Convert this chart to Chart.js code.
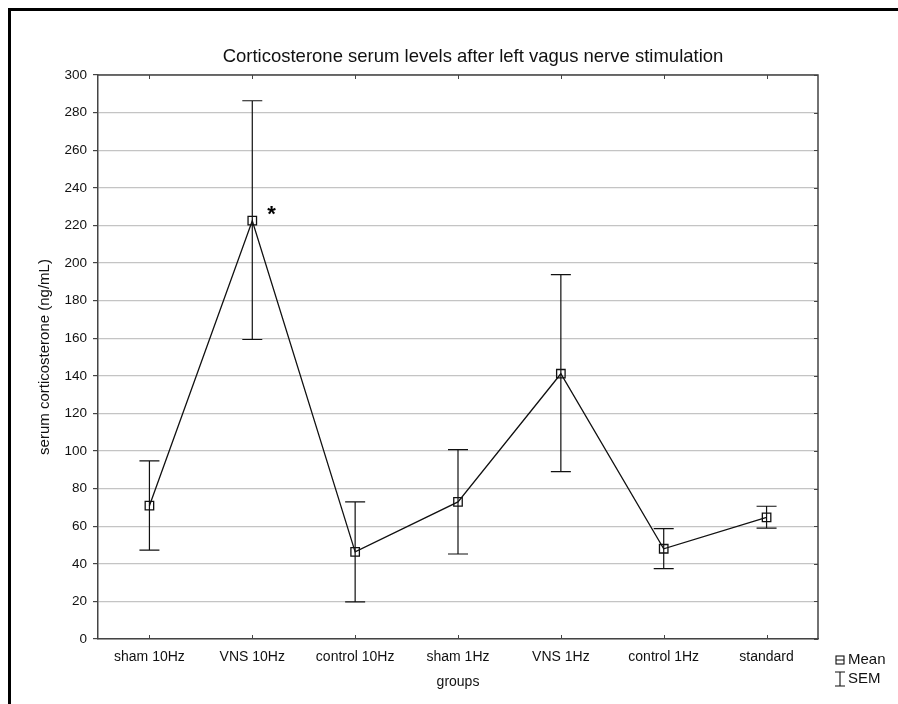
<!DOCTYPE html>
<html>
<head>
<meta charset="utf-8">
<script src="https://cdn.jsdelivr.net/npm/chart.js@4/dist/chart.umd.min.js"></script>
<style>
  html, body { margin: 0; padding: 0; background: #fff; }
  #wrap { position: relative; width: 898px; height: 704px; overflow: hidden; }
  #frame { position: absolute; left: 8px; top: 8px; right: 0; bottom: 0;
           border-top: 3px solid #000; border-left: 3px solid #000; pointer-events: none; }
  canvas { position: absolute; left: 0; top: 0; }
</style>
</head>
<body>
<div id="wrap">
  <canvas id="chart" width="898" height="704"></canvas>
  <div id="frame"></div>
</div>
<script>
// groups and readings (ng/mL)
const groups = ['sham 10Hz', 'VNS 10Hz', 'control 10Hz', 'sham 1Hz', 'VNS 1Hz', 'control 1Hz', 'standard'];
const means = [70.9, 222.5, 46.3, 72.9, 141.1, 48.0, 64.7];
const semUpper = [94.8, 286.3, 72.9, 100.7, 193.8, 58.7, 70.6];
const semLower = [47.3, 159.3, 19.7, 45.2, 89.0, 37.4, 59.0];
const marks = ['', '*', '', '', '', '', ''];
const yTicks = [0, 20, 40, 60, 80, 100, 120, 140, 160, 180, 200, 220, 240, 260, 280, 300];

const FONT = "'Liberation Sans', Arial, Helvetica, sans-serif";
const INK = '#111';
const AXIS = '#444';

// SEM whiskers, frame ticks, asterisk, title and legend
const extras = {
  id: 'extras',
  beforeDatasetsDraw(chart) {
    const ctx = chart.ctx;
    const xs = chart.scales.x, ys = chart.scales.y;
    ctx.save();
    ctx.strokeStyle = INK;
    ctx.lineWidth = 1.2;
    groups.forEach((g, i) => {
      const x = xs.getPixelForValue(i);
      const yt = ys.getPixelForValue(semUpper[i]);
      const yb = ys.getPixelForValue(semLower[i]);
      ctx.beginPath();
      ctx.moveTo(x, yt); ctx.lineTo(x, yb);
      ctx.moveTo(x - 10, yt); ctx.lineTo(x + 10, yt);
      ctx.moveTo(x - 10, yb); ctx.lineTo(x + 10, yb);
      ctx.stroke();
    });
    ctx.restore();
  },
  afterDraw(chart) {
    const ctx = chart.ctx;
    const a = chart.chartArea;
    const xs = chart.scales.x, ys = chart.scales.y;
    ctx.save();
    // top and right frame of plot
    ctx.strokeStyle = AXIS;
    ctx.lineWidth = 1.5;
    ctx.beginPath();
    ctx.moveTo(a.left, a.top); ctx.lineTo(a.right, a.top); ctx.lineTo(a.right, a.bottom);
    ctx.stroke();
    // inward ticks
    ctx.lineWidth = 1;
    ctx.beginPath();
    groups.forEach((g, i) => {
      const x = Math.round(xs.getPixelForValue(i)) + 0.5;
      ctx.moveTo(x, a.top); ctx.lineTo(x, a.top + 4);
      ctx.moveTo(x, a.bottom); ctx.lineTo(x, a.bottom - 4);
    });
    yTicks.forEach(v => {
      const y = Math.round(ys.getPixelForValue(v)) + 0.5;
      ctx.moveTo(a.right, y); ctx.lineTo(a.right - 4, y);
    });
    ctx.stroke();

    // significance marks
    ctx.fillStyle = '#000';
    ctx.font = 'bold 22px ' + FONT;
    ctx.textAlign = 'left';
    ctx.textBaseline = 'middle';
    marks.forEach((m, i) => {
      if (!m) return;
      ctx.fillText(m, xs.getPixelForValue(i) + 15, ys.getPixelForValue(means[i]) - 6);
    });

    // title
    ctx.font = '18.5px ' + FONT;
    ctx.textAlign = 'center';
    ctx.fillStyle = INK;
    ctx.fillText('Corticosterone serum levels after left vagus nerve stimulation', 473, 57);

    // legend
    const lx = 840, ly1 = 660, ly2 = 679;
    ctx.strokeStyle = INK;
    ctx.lineWidth = 1.1;
    ctx.strokeRect(lx - 4, ly1 - 4, 8, 8);
    ctx.beginPath();
    ctx.moveTo(lx - 4, ly1); ctx.lineTo(lx + 4, ly1);
    ctx.moveTo(lx, ly2 - 7); ctx.lineTo(lx, ly2 + 7);
    ctx.moveTo(lx - 5, ly2 - 7); ctx.lineTo(lx + 5, ly2 - 7);
    ctx.moveTo(lx - 5, ly2 + 7); ctx.lineTo(lx + 5, ly2 + 7);
    ctx.stroke();
    ctx.font = '15px ' + FONT;
    ctx.textAlign = 'left';
    ctx.fillText('Mean', lx + 8, ly1);
    ctx.fillText('SEM', lx + 8, ly2);
    ctx.restore();
  }
};

new Chart(document.getElementById('chart'), {
  type: 'line',
  data: {
    labels: groups,
    datasets: [{
      label: 'Mean',
      data: means,
      borderColor: INK,
      borderWidth: 1.3,
      tension: 0,
      fill: false,
      pointStyle: 'rect',
      pointRadius: 6,
      pointBorderWidth: 1.3,
      pointBorderColor: INK,
      pointBackgroundColor: 'rgba(255,255,255,0)'
    }]
  },
  options: {
    responsive: false,
    devicePixelRatio: 1,
    animation: false,
    layout: { padding: { top: 75, right: 80, bottom: 0, left: 0 } },
    plugins: {
      legend: { display: false },
      title: { display: false },
      tooltip: { enabled: false }
    },
    scales: {
      x: {
        type: 'category',
        offset: true,
        afterFit: s => { s.height = 65; },
        grid: { display: false, drawTicks: false },
        border: { display: true, color: AXIS, width: 1.5 },
        ticks: { color: INK, padding: 10, maxRotation: 0, font: { family: FONT, size: 14 } },
        title: { display: true, text: 'groups', color: INK, padding: { top: 0, bottom: 13 },
                 font: { family: FONT, size: 14 } }
      },
      y: {
        min: 0,
        max: 300,
        afterFit: s => { s.width = 98; },
        afterBuildTicks: s => { s.ticks = yTicks.map(v => ({ value: v })); },
        grid: { color: '#c4c4c4', lineWidth: 1.2, tickLength: 5, tickColor: AXIS },
        border: { display: true, color: AXIS, width: 1.5 },
        ticks: { color: INK, padding: 6, font: { family: FONT, size: 13.5 } },
        title: { display: true, text: 'serum corticosterone (ng/mL)', color: INK,
                 padding: { top: 36, bottom: 0 }, font: { family: FONT, size: 15 } }
      }
    }
  },
  plugins: [extras]
});
</script>
</body>
</html>
